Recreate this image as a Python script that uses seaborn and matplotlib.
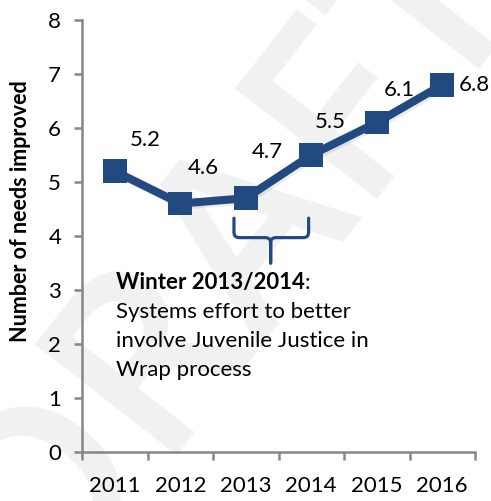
import matplotlib
matplotlib.use("Agg")
import matplotlib.pyplot as plt
import matplotlib.patheffects as pe
from matplotlib.path import Path
from matplotlib.patches import PathPatch
import seaborn as sns
import pandas as pd

years = ["2011", "2012", "2013", "2014", "2015", "2016"]
needs_improved = [5.2, 4.6, 4.7, 5.5, 6.1, 6.8]
y_ticks = [0, 1, 2, 3, 4, 5, 6, 7, 8]
# label offsets in pixels from each marker (last label sits to the right)
label_offsets = [(31, 31), (23, 36), (22, 46), (19, 33), (23, 33), (16, 0)]

LINE_COLOR = "#234A80"
AXIS_COLOR = "#868686"
FONT = "Lato"
FS = 16

sns.set_theme(style="white")
plt.rcParams["font.family"] = [FONT, "DejaVu Sans"]

df = pd.DataFrame({"year": years, "needs": needs_improved})

fig = plt.figure(figsize=(4.91, 5.01), dpi=100)
ax = fig.add_axes([82 / 491, 1 - 452 / 501, (475 - 82) / 491, (452 - 20) / 501])
ax.set_facecolor("none")

# faint DRAFT watermark behind the chart
fig.text(0.47, 0.50, "DRAFT", fontsize=180, color="#f1f1f1", rotation=52,
         ha="center", va="center", zorder=-5, family="Open Sans",
         fontweight="semibold")

shadow = [pe.SimpleLineShadow(offset=(1.5, -1.5), shadow_color="#000000", alpha=0.08),
          pe.Normal()]
sns.lineplot(data=df, x="year", y="needs", ax=ax, color=LINE_COLOR,
             linewidth=5.8, marker="s", markersize=17, markeredgewidth=0,
             path_effects=shadow)

for i, (v, off) in enumerate(zip(needs_improved, label_offsets)):
    ax.annotate(f"{v:.1f}", xy=(i, v), xytext=(off[0], off[1]),
                textcoords="offset pixels",
                ha="left" if off[1] == 0 else "center", va="center",
                fontsize=FS, color="#000000")

ax.set_xlim(-0.5, 5.5)
ax.set_ylim(0, 8)
ax.set_yticks(y_ticks)
ax.set_xticks(range(len(years)))
ax.set_xticklabels(years)
ax.set_xticks([i - 0.5 for i in range(len(years) + 1)], minor=True)

for side in ("top", "right"):
    ax.spines[side].set_visible(False)
for side in ("left", "bottom"):
    ax.spines[side].set_color(AXIS_COLOR)
    ax.spines[side].set_linewidth(1.8)

ax.tick_params(axis="y", which="major", length=6, width=1.8, color=AXIS_COLOR,
               direction="out", left=True, pad=9, labelsize=FS, labelcolor="#000000")
ax.tick_params(axis="x", which="major", length=0, pad=17, labelsize=FS,
               labelcolor="#000000")
ax.tick_params(axis="x", which="minor", length=6, width=1.8, color=AXIS_COLOR,
               direction="out", bottom=True)
ax.set_xlabel("")
ax.set_ylabel("")
fig.text(21 / 491, 1 - 211 / 501, "Number of needs improved", rotation=90,
         ha="center", va="center", fontsize=15.5, fontweight="bold", color="#000000")

# curly brace marking the 2013/2014 winter
xl, xr, xm = 1.82, 2.96, 2.38
ytop, ybar, ytip = 4.33, 3.97, 3.5
c = 0.04
verts = [
    (xl, ytop), (xl, ybar + 0.1), (xl, ybar), (xl + c * 2, ybar),
    (xm - c * 2, ybar), (xm, ybar), (xm, ybar - 0.1),
    (xm, ytip),
    (xm, ytip), (xm, ybar - 0.1), (xm, ybar), (xm + c * 2, ybar),
    (xr - c * 2, ybar), (xr, ybar), (xr, ybar + 0.1), (xr, ytop),
]
codes = [Path.MOVETO, Path.LINETO, Path.CURVE3, Path.CURVE3,
         Path.LINETO, Path.CURVE3, Path.CURVE3,
         Path.LINETO,
         Path.MOVETO, Path.LINETO, Path.CURVE3, Path.CURVE3,
         Path.LINETO, Path.CURVE3, Path.CURVE3, Path.LINETO]
ax.add_patch(PathPatch(Path(verts, codes), fill=False, edgecolor=LINE_COLOR,
                       linewidth=2.3, capstyle="round", joinstyle="round"))

# annotation text, bold heading followed by a plain colon
x_note = (116 - 82) / 393
head = ax.text(x_note, 1 - (283 - 20) / 432, "Winter 2013/2014",
               transform=ax.transAxes, fontsize=FS, fontweight="bold",
               ha="left", va="center", color="#000000")
ax.annotate(":", xy=(1, 0.5), xycoords=head, ha="left", va="center",
            fontsize=FS, color="#000000")
body = ["Systems effort to better", "involve Juvenile Justice in", "Wrap process"]
for k, line in enumerate(body):
    ax.text(x_note, 1 - (283 + 29 * (k + 1) - 20) / 432, line,
            transform=ax.transAxes, fontsize=FS, ha="left", va="center",
            color="#000000")

fig.savefig("out.png", dpi=100)
